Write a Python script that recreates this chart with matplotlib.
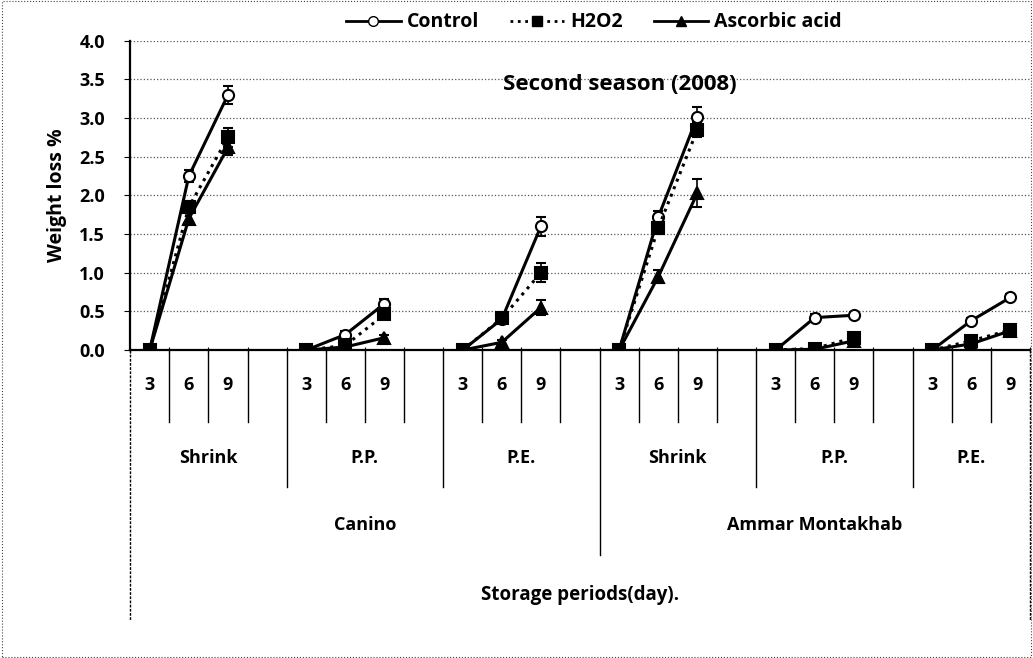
import numpy as np
import matplotlib
matplotlib.use('Agg')
import matplotlib.pyplot as plt
from matplotlib.lines import Line2D
from matplotlib.patches import Rectangle

plt.rcParams['font.family'] = ['Open Sans', 'DejaVu Sans']
plt.rcParams['font.weight'] = 'bold'

DAYS = ['3', '6', '9']
PACKS = ['Shrink', 'P.P.', 'P.E.', 'Shrink', 'P.P.', 'P.E.']
VARIETIES = ['Canino', 'Ammar Montakhab']

# weight loss % per pack group (days 3, 6, 9)
control = [[0.0, 2.25, 3.30], [0.0, 0.20, 0.60], [0.0, 0.40, 1.60],
           [0.0, 1.72, 3.02], [0.0, 0.42, 0.45], [0.0, 0.38, 0.68]]
h2o2 = [[0.0, 1.85, 2.75], [0.0, 0.06, 0.46], [0.0, 0.41, 1.00],
        [0.0, 1.58, 2.85], [0.0, 0.02, 0.16], [0.0, 0.12, 0.26]]
ascorbic = [[0.0, 1.70, 2.62], [0.0, 0.04, 0.16], [0.0, 0.10, 0.55],
            [0.0, 0.95, 2.03], [0.0, 0.01, 0.12], [0.0, 0.08, 0.25]]
err_control = [[0.02, 0.08, 0.12], [0.02, 0.05, 0.06], [0.02, 0.05, 0.12],
               [0.02, 0.08, 0.12], [0.02, 0.04, 0.04], [0.02, 0.04, 0.05]]
err_h2o2 = [[0.02, 0.08, 0.12], [0.02, 0.03, 0.06], [0.02, 0.04, 0.12],
            [0.02, 0.08, 0.10], [0.02, 0.02, 0.05], [0.02, 0.03, 0.04]]
err_asc = [[0.02, 0.08, 0.10], [0.02, 0.02, 0.04], [0.02, 0.03, 0.10],
           [0.02, 0.08, 0.18], [0.02, 0.02, 0.03], [0.02, 0.02, 0.03]]

# 4 slots per pack group (3, 6, 9, blank); last group has no blank slot
slots = []
for g in range(len(PACKS)):
    slots += [g * 4 + i for i in range(3)]
n_slots = len(PACKS) * 4 - 1

fig = plt.figure(figsize=(10.33, 6.58), dpi=100)
ax = fig.add_axes([0.126, 0.468, 0.871, 0.47])

styles = [
    (control, err_control, dict(marker='o', mfc='white', ls='-'), 'Control'),
    (h2o2, err_h2o2, dict(marker='s', mfc='black', ls=':'), 'H2O2'),
    (ascorbic, err_asc, dict(marker='^', mfc='black', ls='-'), 'Ascorbic acid'),
]
handles = []
for vals, errs, st, lab in styles:
    for g in range(len(PACKS)):
        xs = slots[g * 3:(g + 1) * 3]
        ax.errorbar(xs, vals[g], yerr=errs[g], color='black', mec='black',
                    lw=2.2, ms=8, mew=1.5, capsize=3.5, elinewidth=1.2,
                    zorder=3, **st)
    handles.append(Line2D([], [], color='black', lw=2, ms=7, mec='black', **st))

ax.set_xlim(-0.5, n_slots - 0.5)
ax.set_ylim(0, 4.0)
ax.set_yticks(np.arange(0, 4.01, 0.5))
ax.set_yticklabels([f'{v:.1f}' for v in np.arange(0, 4.01, 0.5)], fontsize=13,
                   fontweight='bold')
ax.yaxis.grid(True, ls=':', color='#555555', lw=0.9)
ax.set_xticks(np.arange(-0.5, n_slots, 1.0))
ax.set_xticklabels([])
ax.tick_params(axis='x', length=4, direction='inout')
ax.tick_params(axis='y', length=4, direction='out', pad=14)
for s in ['top', 'right']:
    ax.spines[s].set_visible(False)
ax.spines['left'].set_linewidth(1.6)
ax.spines['bottom'].set_linewidth(1.6)
ax.set_ylabel('Weight loss %', fontsize=14, fontweight='bold', labelpad=9)

# multi-level category axis
tr = ax.get_xaxis_transform()
ah = 0.47 * 6.58 * 100  # axes height in px


def ay(px):
    return -px / ah


for g in range(len(PACKS)):
    for i, d in enumerate(DAYS):
        ax.text(g * 4 + i, ay(35), d, transform=tr, ha='center', va='center',
                fontsize=13, fontweight='bold')
    ax.text(g * 4 + 1.5 if g < 5 else g * 4 + 1, ay(108), PACKS[g],
            transform=tr, ha='center', va='center', fontsize=13, fontweight='bold')
for v, name in enumerate(VARIETIES):
    ax.text(v * 12 + (5.5 if v == 0 else 5.0), ay(175), name, transform=tr,
            ha='center', va='center', fontsize=13, fontweight='bold')
ax.text((n_slots - 1) / 2, ay(245), 'Storage periods(day).', transform=tr,
        ha='center', va='center', fontsize=13.5, fontweight='bold')

for b in np.arange(0.5, n_slots - 0.5, 1.0):
    if b == 11.5:
        end = 205
    elif (b + 0.5) % 4 == 0:
        end = 137
    else:
        end = 72
    ax.plot([b, b], [0, ay(end)], transform=tr, color='black', lw=1.0,
            clip_on=False)
for b in [-0.5, n_slots - 0.5]:
    ax.plot([b, b], [0, ay(270)], transform=tr, color='black', lw=1.0,
            ls=(0, (2, 1)), clip_on=False)

fig.legend(handles, ['Control', 'H2O2', 'Ascorbic acid'], loc='center',
           bbox_to_anchor=(0.575, 0.966), ncol=3, frameon=False, fontsize=14,
           handlelength=2.8, columnspacing=1.6, handletextpad=0.3)
fig.text(0.60, 0.871, 'Second season (2008)', ha='center', va='center',
         fontsize=16, fontweight='bold')

fig.patches.append(Rectangle((0.002, 0.002), 0.996, 0.996, transform=fig.transFigure,
                             fill=False, ls=':', lw=0.8, edgecolor='#444444'))

fig.savefig('out.png', dpi=100)
